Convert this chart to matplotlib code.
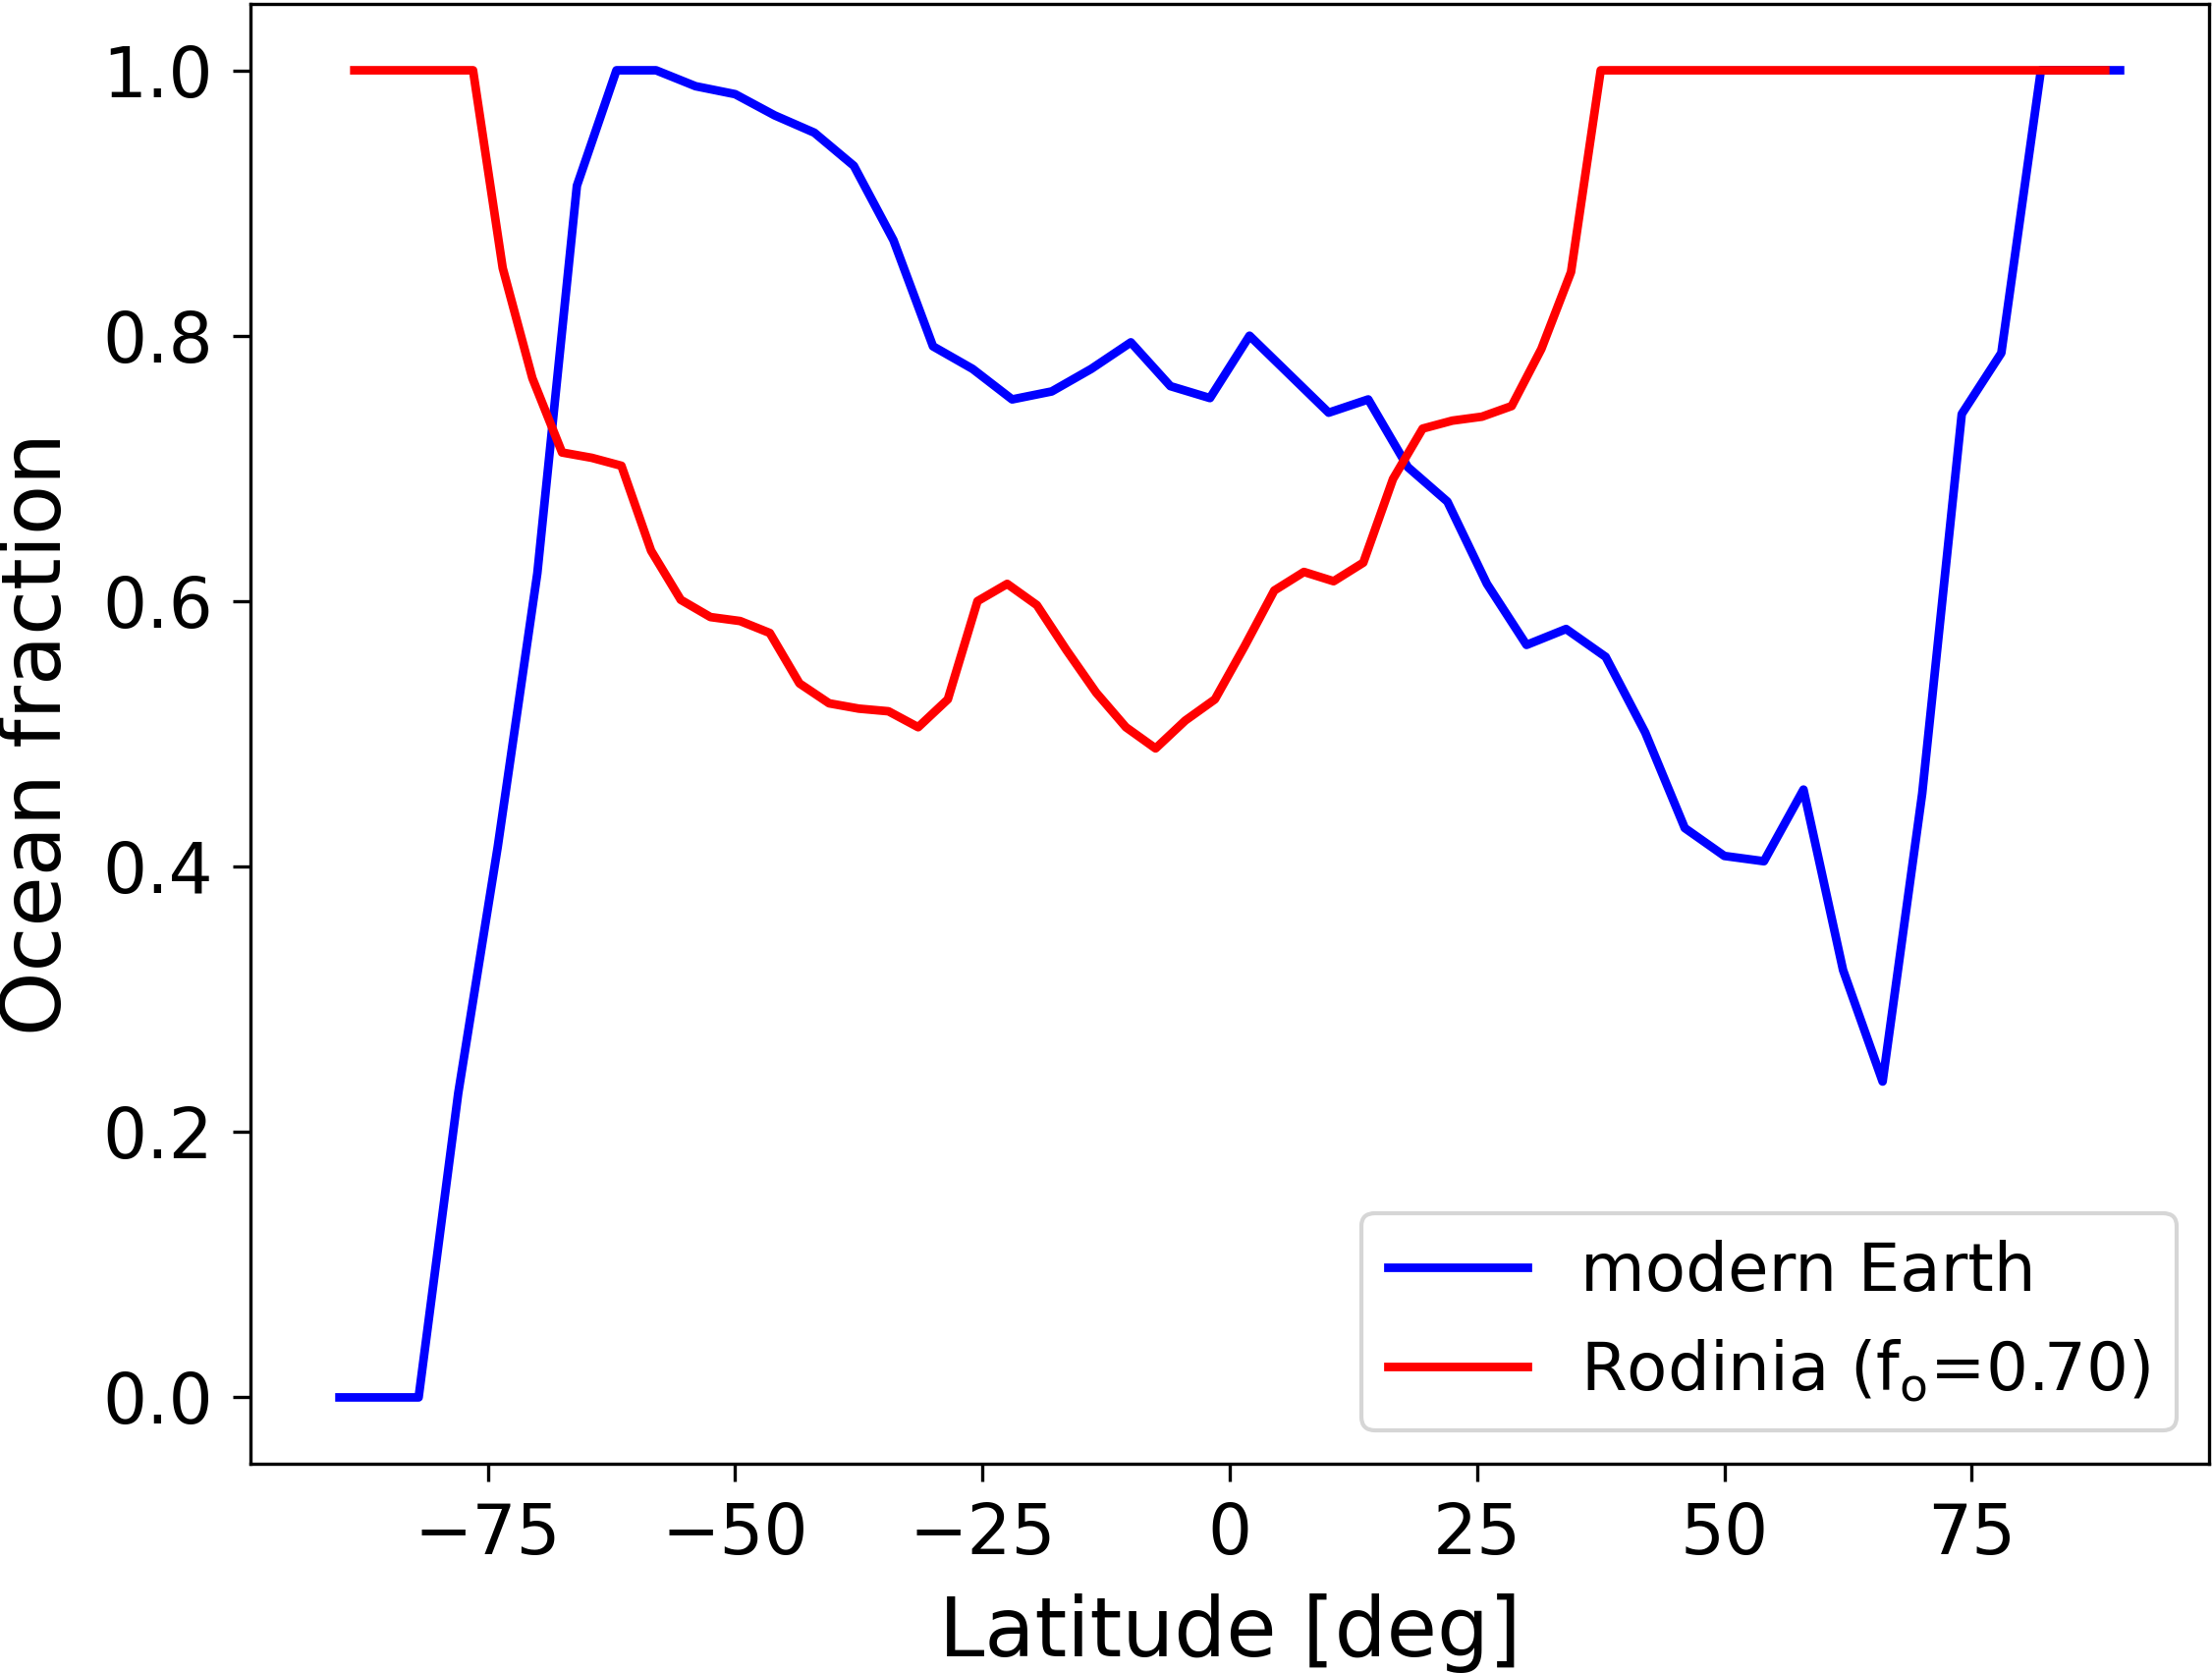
import matplotlib
matplotlib.use('Agg')
import matplotlib.pyplot as plt

# modern Earth, 4 degree bands
lat_earth = [-90, -86, -82, -78, -74, -70, -66, -62, -58, -54, -50, -46,
             -42, -38, -34, -30, -26, -22, -18, -14, -10, -6, -2, 2, 6,
             10, 14, 18, 22, 26, 30, 34, 38, 42, 46, 50, 54, 58, 62, 66,
             70, 74, 78, 82, 86, 90]
ocean_earth = [0.0, 0.0, 0.0, 0.229, 0.415, 0.621, 0.913, 1.0, 1.0, 0.988,
               0.982, 0.966, 0.953, 0.928, 0.872, 0.792, 0.775, 0.752, 0.758,
               0.775, 0.795, 0.762, 0.753, 0.800, 0.771, 0.742, 0.752, 0.701,
               0.675, 0.613, 0.567, 0.579, 0.558, 0.501, 0.429, 0.408, 0.404,
               0.458, 0.322, 0.238, 0.455, 0.741, 0.787, 1.0, 1.0, 1.0]

# Rodinia, 3 degree bands
lat_rod = [-88.5, -85.5, -82.5, -79.5, -76.5, -73.5, -70.5, -67.5, -64.5,
           -61.5, -58.5, -55.5, -52.5, -49.5, -46.5, -43.5, -40.5, -37.5,
           -34.5, -31.5, -28.5, -25.5, -22.5, -19.5, -16.5, -13.5, -10.5,
           -7.5, -4.5, -1.5, 1.5, 4.5, 7.5, 10.5, 13.5, 16.5, 19.5, 22.5,
           25.5, 28.5, 31.5, 34.5, 37.5, 40.5, 43.5, 46.5, 49.5, 52.5, 55.5,
           58.5, 61.5, 64.5, 67.5, 70.5, 73.5, 76.5, 79.5, 82.5, 85.5, 88.5]
ocean_rod = [1.0, 1.0, 1.0, 1.0, 1.0, 0.851, 0.768, 0.712, 0.708, 0.702,
             0.638, 0.601, 0.588, 0.585, 0.576, 0.538, 0.523, 0.519, 0.517,
             0.505, 0.526, 0.600, 0.613, 0.597, 0.563, 0.531, 0.505, 0.489,
             0.510, 0.526, 0.566, 0.608, 0.622, 0.615, 0.629, 0.692, 0.730,
             0.736, 0.739, 0.747, 0.790, 0.848, 1.0, 1.0, 1.0, 1.0, 1.0, 1.0,
             1.0, 1.0, 1.0, 1.0, 1.0, 1.0, 1.0, 1.0, 1.0, 1.0, 1.0, 1.0]

fig = plt.figure(figsize=(2252/300, 1703/300), dpi=300)
ax = fig.add_axes([0.11323, 0.12507, 0.88544, 0.87258])

ax.plot(lat_earth, ocean_earth, 'b', lw=2.1, label='modern Earth')
ax.plot(lat_rod, ocean_rod, 'r', lw=2.1, label=r'Rodinia (f$_\mathrm{o}$=0.70)')

ax.set_xlabel('Latitude [deg]', fontsize=20, labelpad=6)
ax.set_ylabel('Ocean fraction', fontsize=20, labelpad=6)
ax.tick_params(labelsize=17, length=4.3, pad=4.8)
ax.set_xticks([-75, -50, -25, 0, 25, 50, 75])
ax.set_yticks([0.0, 0.2, 0.4, 0.6, 0.8, 1.0])
ax.legend(loc='lower right', fontsize=16.2, bbox_to_anchor=(0.9834, 0.0229),
          borderaxespad=0, handlelength=2.1)

fig.savefig('out.png', dpi=300)
